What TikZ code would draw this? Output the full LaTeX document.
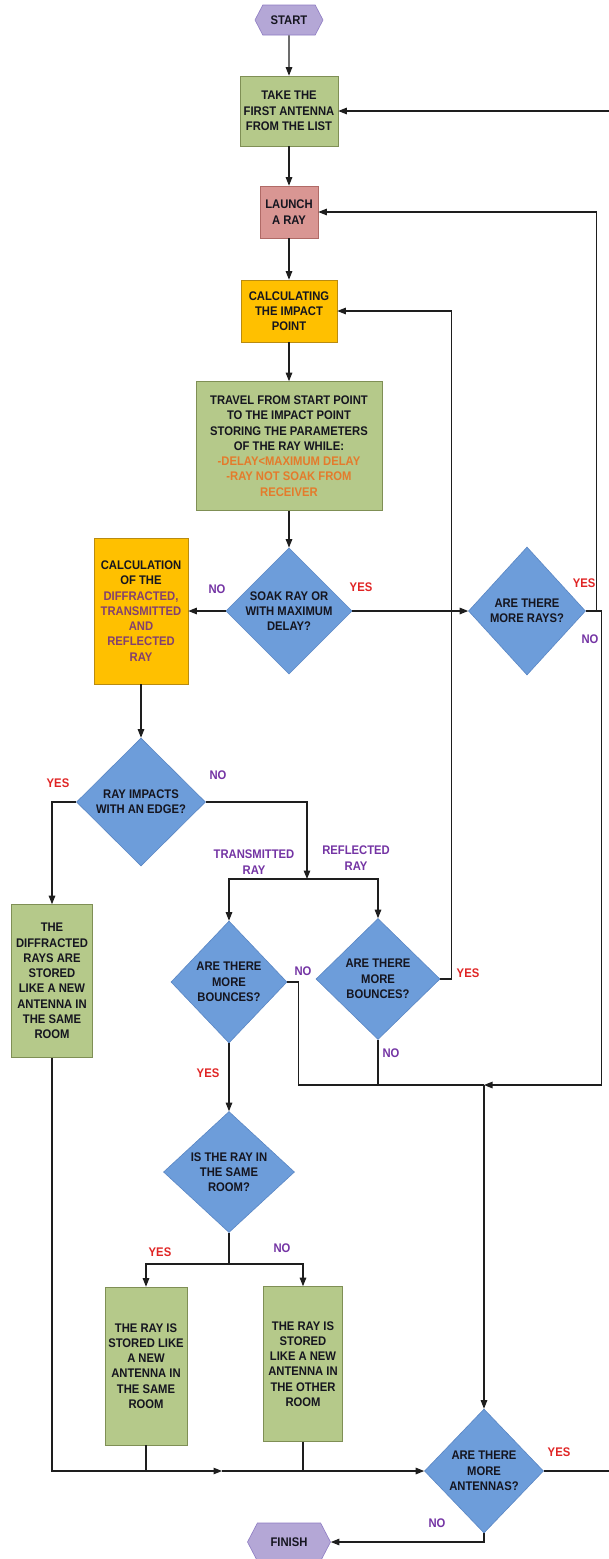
\documentclass[tikz,border=0pt]{standalone}
\usepackage{fontspec}
\setmainfont{Liberation Sans}[FakeStretch=0.9]
\usetikzlibrary{shapes.geometric,shapes.symbols,arrows.meta,positioning}

\definecolor{hexfill}{HTML}{B4A7D6}
\definecolor{hexline}{HTML}{8E7CC3}
\definecolor{greenfill}{HTML}{B5C98A}
\definecolor{greenline}{HTML}{7F8F55}
\definecolor{pinkfill}{HTML}{D99693}
\definecolor{pinkline}{HTML}{B06A66}
\definecolor{orangefill}{HTML}{FFC000}
\definecolor{orangeline}{HTML}{B98B10}
\definecolor{bluefill}{HTML}{6D9DDA}
\definecolor{blueline}{HTML}{5A86C4}
\definecolor{textdark}{HTML}{15151F}
\definecolor{yesred}{HTML}{E02424}
\definecolor{nopurple}{HTML}{7434A4}
\definecolor{calcpurple}{HTML}{83406F}
\definecolor{travelorange}{HTML}{E47B2C}
\definecolor{linegrey}{HTML}{1E1E1E}

\tikzset{
    basebox/.style={draw, line width=0.6pt, inner sep=1pt, align=center,
        font=\bfseries\fontsize{12.5}{15.3}\selectfont, text=textdark},
    procbox/.style={basebox, rectangle},
    greenbox/.style={procbox, fill=greenfill, draw=greenline},
    decision/.style={basebox, diamond, inner sep=0pt, fill=bluefill, draw=blueline},
    terminal/.style={basebox, signal, signal to=east and west,
        signal pointer angle=125, fill=hexfill, draw=hexline},
    yeslab/.style={font=\bfseries\fontsize{12.5}{15.3}\selectfont, text=yesred, align=center},
    nolab/.style={font=\bfseries\fontsize{12.5}{15.3}\selectfont, text=nopurple, align=center},
    link/.style={line width=1.2pt, draw=linegrey},
    arr/.style={link, -{Triangle[length=8.5pt,width=6.5pt]}}
}

\begin{document}
\begin{tikzpicture}[x=1pt,y=-1pt]
    \useasboundingbox (0,0) rectangle (609,1559);
    \fill[white] (0,0) rectangle (609,1559);

    \begin{scope}
        % Main column
        \node[terminal, minimum width=68pt, minimum height=30pt] (start) at (289,20) {START};
        \node[greenbox, minimum width=98pt, minimum height=70pt] (take) at (289,111)
            {TAKE THE\\FIRST ANTENNA\\FROM THE LIST};
        \node[procbox, fill=pinkfill, draw=pinkline, minimum width=58pt, minimum height=52pt] (launch) at (289,212)
            {LAUNCH\\A RAY};
        \node[procbox, fill=orangefill, draw=orangeline, minimum width=96pt, minimum height=62pt] (impact) at (289,311)
            {CALCULATING\\THE IMPACT\\POINT};
        \node[greenbox, minimum width=186pt, minimum height=129pt] (travel) at (289,446)
            {TRAVEL FROM START POINT\\TO THE IMPACT POINT\\STORING THE PARAMETERS\\OF THE RAY WHILE:\\
             \textcolor{travelorange}{-DELAY<MAXIMUM DELAY}\\
             \textcolor{travelorange}{-RAY NOT SOAK FROM}\\
             \textcolor{travelorange}{RECEIVER}};

        % Decisions on the ray
        \node[decision, minimum width=125pt, minimum height=125pt] (soak) at (289,611)
            {SOAK RAY OR\\WITH MAXIMUM\\DELAY?};
        \node[decision, minimum width=117pt, minimum height=128pt] (rays) at (527,611)
            {ARE THERE\\MORE RAYS?};
        \node[procbox, fill=orangefill, draw=orangeline, minimum width=94pt, minimum height=146pt] (calc) at (141,611)
            {CALCULATION\\OF THE\\
             \textcolor{calcpurple}{DIFFRACTED,}\\
             \textcolor{calcpurple}{TRANSMITTED}\\
             \textcolor{calcpurple}{AND}\\
             \textcolor{calcpurple}{REFLECTED}\\
             \textcolor{calcpurple}{RAY}};
        \node[decision, minimum width=129pt, minimum height=128pt] (edge) at (141,802)
            {RAY IMPACTS\\WITH AN EDGE?};

        % Branches
        \node[greenbox, minimum width=81pt, minimum height=153pt] (diffr) at (52,981)
            {THE\\DIFFRACTED\\RAYS ARE\\STORED\\LIKE A NEW\\ANTENNA IN\\THE SAME\\ROOM};
        \node[decision, minimum width=116pt, minimum height=122pt] (tbounce) at (229,982)
            {ARE THERE\\MORE\\BOUNCES?};
        \node[decision, minimum width=124pt, minimum height=121pt] (rbounce) at (378,979)
            {ARE THERE\\MORE\\BOUNCES?};
        \node[decision, minimum width=131pt, minimum height=121pt] (room) at (229,1172)
            {IS THE RAY IN\\THE SAME\\ROOM?};
        \node[greenbox, minimum width=82pt, minimum height=158pt] (same) at (146,1366)
            {THE RAY IS\\STORED LIKE\\A NEW\\ANTENNA IN\\THE SAME\\ROOM};
        \node[greenbox, minimum width=79pt, minimum height=155pt] (other) at (303,1364)
            {THE RAY IS\\STORED\\LIKE A NEW\\ANTENNA IN\\THE OTHER\\ROOM};
        \node[decision, minimum width=119pt, minimum height=124pt] (antennas) at (484,1471)
            {ARE THERE\\MORE\\ANTENNAS?};
        \node[terminal, minimum width=83pt, minimum height=38pt] (finish) at (289,1542) {FINISH};

        % Junction points
        \coordinate (split) at (307,879);
        \coordinate (merge) at (484,1085);
        \coordinate (fork) at (229,1264);
        \coordinate (join) at (222,1471);

        % Connectors
        \draw[arr] (start) -- (take);
        \draw[arr] (take) -- (launch);
        \draw[arr] (launch) -- (impact);
        \draw[arr] (impact) -- (travel);
        \draw[arr] (travel) -- (soak);
        \draw[arr] (soak) -- (calc);
        \draw[arr] (soak) -- (rays);
        \draw[arr] (rays.east) -- ++(11,0) |- (launch.east);
        \draw[arr] (rays.east) -- ++(16,0) |- (merge);
        \draw[arr] (calc) -- (edge);
        \draw[arr] (edge.west) -| (diffr.north);
        \draw[arr] (edge.east) -| (split);
        \draw[arr] (split) -| (tbounce.north);
        \draw[arr] (split) -| (rbounce.north);
        \draw[link] (tbounce.east) -- ++(11,0) |- (merge);
        \draw[link] (rbounce.south) -- (rbounce.south |- merge);
        \draw[arr] (rbounce.east) -- ++(11,0) |- (impact.east);
        \draw[arr] (tbounce) -- (room);
        \draw[link] (room.south) -- (fork);
        \draw[arr] (fork) -| (same.north);
        \draw[arr] (fork) -| (other.north);
        \draw[arr] (diffr.south) |- (join);
        \draw[link] (same.south) -- (same.south |- join);
        \draw[link] (other.south) -- (other.south |- join);
        \draw[arr] (join) -- (antennas.west);
        \draw[arr] (merge) -- (antennas.north);
        \draw[arr] (antennas.east) -- ++(80,0) |- (take.east);
        \draw[arr] (antennas.south) |- (finish.east);

        % Answer labels
        \node[nolab] (soakno) at (217,589) {NO};
        \node[yeslab] (soakyes) at (361,587) {YES};
        \node[yeslab] (raysyes) at (584,583) {YES};
        \node[nolab] (raysno) at (590,639) {NO};
        \node[yeslab] (edgeyes) at (58,783) {YES};
        \node[nolab] (edgeno) at (218,775) {NO};
        \node[nolab] (translab) at (254,862) {TRANSMITTED\\RAY};
        \node[nolab] (refllab) at (356,858) {REFLECTED\\RAY};
        \node[nolab] (tbounceno) at (303,971) {NO};
        \node[yeslab] (rbounceyes) at (468,973) {YES};
        \node[nolab] (rbounceno) at (391,1053) {NO};
        \node[yeslab] (tbounceyes) at (208,1073) {YES};
        \node[yeslab] (roomyes) at (160,1252) {YES};
        \node[nolab] (roomno) at (282,1248) {NO};
        \node[yeslab] (antyes) at (559,1452) {YES};
        \node[nolab] (antno) at (437,1523) {NO};
    \end{scope}
\end{tikzpicture}
\end{document}
